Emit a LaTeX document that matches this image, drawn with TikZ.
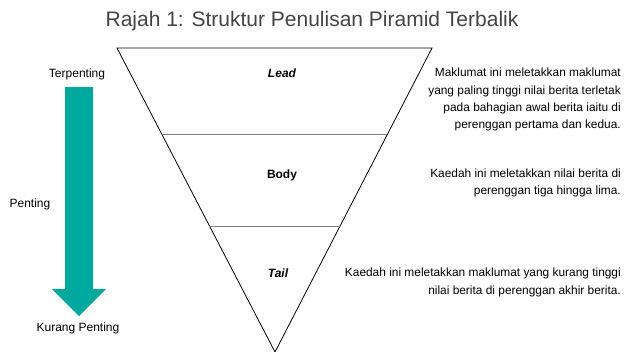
\documentclass[tikz,border=0pt]{standalone}
\usepackage{fontspec}
\setmainfont{Liberation Sans}
\definecolor{teal1}{HTML}{00A99D}
\definecolor{titlegray}{HTML}{444444}
\begin{document}
\begin{tikzpicture}[x=1pt,y=-1pt,
  desc/.style={align=right,anchor=north east,font=\fontsize{11.9}{17.3}\selectfont,inner sep=0pt},
  side/.style={font=\fontsize{12}{14}\selectfont,inner sep=0pt},
  lab/.style={font=\fontsize{12}{14}\selectfont\bfseries,inner sep=0pt},
  labi/.style={font=\fontsize{12}{14}\selectfont\bfseries\itshape,inner sep=0pt}]
\useasboundingbox (0,0) rectangle (624,351);
\node[font=\fontsize{21}{24}\selectfont,text=titlegray,inner sep=0pt] (title) at (312,21) {Rajah 1: Struktur Penulisan Piramid Terbalik};
% triangle
\coordinate (tl) at (117,48);
\coordinate (tr) at (432,48);
\coordinate (ap) at (275,352);
\draw[line width=0.8pt] (tl) -- (tr) -- (ap) -- cycle;
\coordinate (l1) at (162,134); \coordinate (r1) at (387,134);
\coordinate (l2) at (209,226); \coordinate (r2) at (341,226);
\draw[gray,line width=0.7pt] (l1) -- (r1);
\draw[gray,line width=0.7pt] (l2) -- (r2);
\node[labi] (lead) at (282,73) {Lead};
\node[lab] (body) at (282,175) {Body};
\node[labi] (tail) at (278,273) {Tail};
% arrow
\fill[teal1] (65,87) -- (93,87) -- (93,289) -- (106,289) -- (79,316) -- (52,289) -- (65,289) -- cycle;
\node[side] (top) at (77,74) {Terpenting};
\node[side] (mid) at (30,204) {Penting};
\node[side] (bot) at (78,328) {Kurang Penting};
% descriptions
\node[desc] (d1) at (621,68) {Maklumat ini meletakkan maklumat\\yang paling tinggi nilai berita terletak\\pada bahagian awal berita iaitu di\\perenggan pertama dan kedua.};
\node[desc] (d2) at (621,168.5) {Kaedah ini meletakkan nilai berita di\\perenggan tiga hingga lima.};
\node[desc,font=\fontsize{11.9}{18.5}\selectfont] (d3) at (621,267.5) {Kaedah ini meletakkan maklumat yang kurang tinggi\\nilai berita di perenggan akhir berita.};
\end{tikzpicture}
\end{document}
